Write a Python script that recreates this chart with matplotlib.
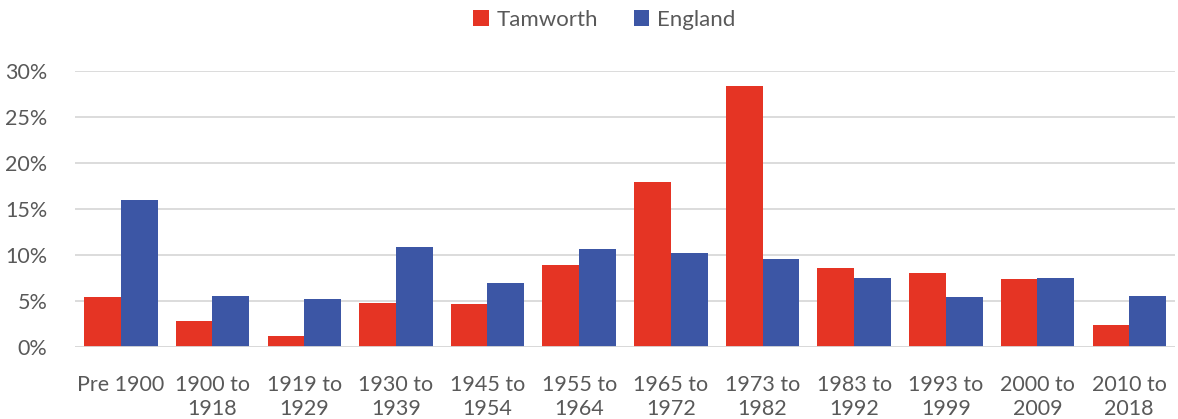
import numpy as np
import matplotlib
matplotlib.use("Agg")
import matplotlib.pyplot as plt
from matplotlib.ticker import PercentFormatter

plt.rcParams["font.family"] = ["Lato", "DejaVu Sans"]

categories = ["Pre 1900", "1900 to\n1918", "1919 to\n1929", "1930 to\n1939",
              "1945 to\n1954", "1955 to\n1964", "1965 to\n1972", "1973 to\n1982",
              "1983 to\n1992", "1993 to\n1999", "2000 to\n2009", "2010 to\n2018"]
tamworth = [5.4, 2.8, 1.2, 4.8, 4.7, 8.9, 17.9, 28.4, 8.6, 8.0, 7.4, 2.4]
england = [16.0, 5.5, 5.2, 10.9, 7.0, 10.6, 10.2, 9.6, 7.5, 5.4, 7.5, 5.5]

red = "#E53424"
blue = "#3C56A5"
text_col = "#595959"

fig = plt.figure(figsize=(11.78, 4.19), dpi=100)
ax = fig.add_axes([75 / 1178, 72 / 419, 1100 / 1178, 276 / 419])

x = np.arange(len(categories))
w = 0.4
ax.bar(x - w / 2, tamworth, w, color=red, label="Tamworth", zorder=3)
ax.bar(x + w / 2, england, w, color=blue, label="England", zorder=3)

ax.set_xlim(-0.5, len(categories) - 0.5)
ax.set_ylim(0, 30)
ax.set_yticks(range(0, 31, 5))
ax.yaxis.set_major_formatter(PercentFormatter(decimals=0))
ax.set_xticks(x)
ax.set_xticklabels(categories, linespacing=1.25)
ax.grid(axis="y", color="#D9D9D9", linewidth=1.3, zorder=0)
for s in ["top", "right", "left", "bottom"]:
    ax.spines[s].set_visible(False)
ax.axhline(0, color="#D9D9D9", linewidth=1.3, zorder=4)
ax.tick_params(axis="both", length=0, labelsize=15.5, colors=text_col)
ax.tick_params(axis="x", pad=20)
ax.tick_params(axis="y", pad=20)

leg = fig.legend(loc="upper center", bbox_to_anchor=(0.513, 1.025), ncol=2,
                 frameon=False, fontsize=16, handlelength=0.7, handleheight=0.7,
                 columnspacing=1.6, handletextpad=0.35)
for t in leg.get_texts():
    t.set_color(text_col)

fig.savefig("out.png", dpi=100)
